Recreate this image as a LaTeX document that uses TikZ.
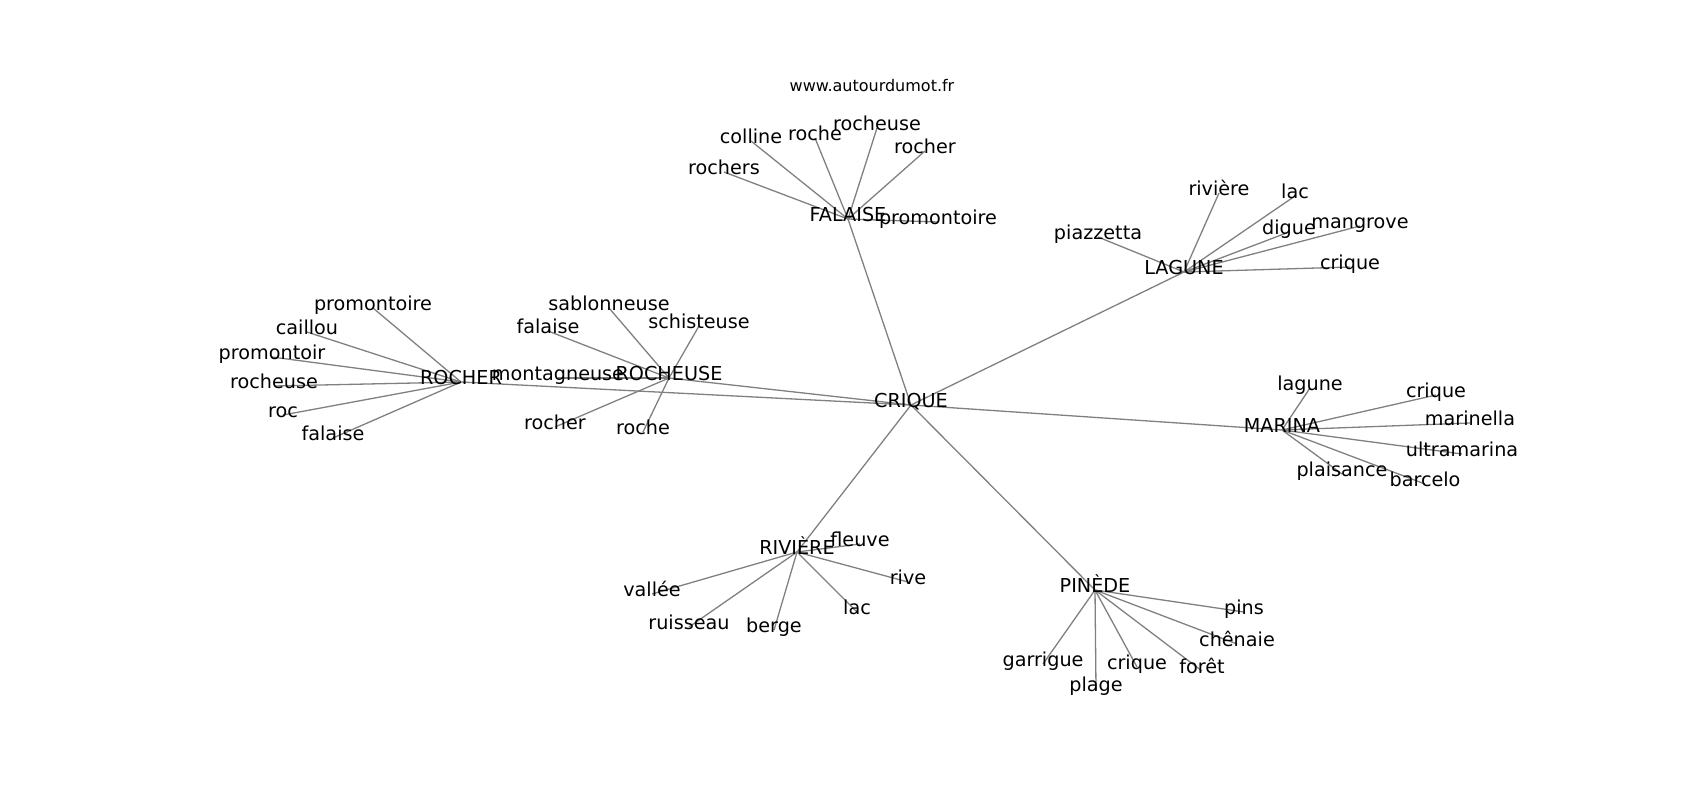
\documentclass[tikz,border=0pt]{standalone}
\usepackage{fontspec}
\setmainfont{DejaVu Sans}
\usetikzlibrary{backgrounds}
\tikzset{
  lbl/.style={inner sep=0pt, anchor=center, text height=0.76em, text depth=0.24em,
    font=\fontsize{19.2}{23}\selectfont, text=black},
  web/.style={inner sep=0pt, anchor=center, font=\fontsize{16}{19}\selectfont, text=black},
  edge/.style={draw=black!50, line width=1.3pt}
}
\begin{document}
\begin{tikzpicture}[x=1pt, y=-1pt]
\useasboundingbox (0,-3) rectangle (1700,797);
\node[web] (www) at (872,83) {www.autourdumot.fr};
% hubs
\node[lbl] (crique) at (911,402) {CRIQUE};
\node[lbl] (falaise) at (848,216) {FALAISE};
\node[lbl] (lagune) at (1184,269) {LAGUNE};
\node[lbl] (marina) at (1282,427) {MARINA};
\node[lbl] (riviere) at (797,549) {RIVIÈRE};
\node[lbl] (pinede) at (1095,587) {PINÈDE};
\node[lbl] (rocherH) at (461,379) {ROCHER};
\node[lbl] (rocheuseH) at (669,375) {ROCHEUSE};
% FALAISE
\node[lbl] (f1) at (751,138) {colline};
\node[lbl] (f2) at (815,135) {roche};
\node[lbl] (f3) at (877,125) {rocheuse};
\node[lbl] (f4) at (925,148) {rocher};
\node[lbl] (f5) at (724,169) {rochers};
\node[lbl] (f6) at (938,219) {promontoire};
% LAGUNE
\node[lbl] (l1) at (1098,234) {piazzetta};
\node[lbl] (l2) at (1219,190) {rivière};
\node[lbl] (l3) at (1295,193) {lac};
\node[lbl] (l4) at (1289,229) {digue};
\node[lbl] (l5) at (1360,223) {mangrove};
\node[lbl] (l6) at (1350,264) {crique};
% MARINA
\node[lbl] (m1) at (1310,385) {lagune};
\node[lbl] (m2) at (1436,392) {crique};
\node[lbl] (m3) at (1470,420) {marinella};
\node[lbl] (m4) at (1462,451) {ultramarina};
\node[lbl] (m5) at (1342,471) {plaisance};
\node[lbl] (m6) at (1425,481) {barcelo};
% RIVIERE
\node[lbl] (r1) at (860,541) {fleuve};
\node[lbl] (r2) at (908,579) {rive};
\node[lbl] (r3) at (857,609) {lac};
\node[lbl] (r4) at (652,591) {vallée};
\node[lbl] (r5) at (689,624) {ruisseau};
\node[lbl] (r6) at (774,627) {berge};
% PINEDE
\node[lbl] (p1) at (1244,609) {pins};
\node[lbl] (p2) at (1237,641) {chênaie};
\node[lbl] (p3) at (1043,661) {garrigue};
\node[lbl] (p4) at (1137,664) {crique};
\node[lbl] (p5) at (1202,668) {forêt};
\node[lbl] (p6) at (1096,686) {plage};
% ROCHER
\node[lbl] (a1) at (373,305) {promontoire};
\node[lbl] (a2) at (307,329) {caillou};
\node[lbl] (a3) at (272,354) {promontoir};
\node[lbl] (a4) at (274,383) {rocheuse};
\node[lbl] (a5) at (283,412) {roc};
\node[lbl] (a6) at (333,435) {falaise};
% ROCHEUSE
\node[lbl] (b1) at (609,305) {sablonneuse};
\node[lbl] (b2) at (548,328) {falaise};
\node[lbl] (b3) at (699,323) {schisteuse};
\node[lbl] (b4) at (555,424) {rocher};
\node[lbl] (b5) at (643,429) {roche};
\node[lbl] (b6) at (558,375) {montagneuse};
\begin{scope}[on background layer]
\foreach \h in {falaise,lagune,marina,riviere,pinede,rocherH,rocheuseH}
  \draw[edge] (crique.center) -- (\h.center);
\foreach \l in {f1,f2,f3,f4,f5,f6} \draw[edge] (falaise.center) -- (\l.center);
\foreach \l in {l1,l2,l3,l4,l5,l6} \draw[edge] (lagune.center) -- (\l.center);
\foreach \l in {m1,m2,m3,m4,m5,m6} \draw[edge] (marina.center) -- (\l.center);
\foreach \l in {r1,r2,r3,r4,r5,r6} \draw[edge] (riviere.center) -- (\l.center);
\foreach \l in {p1,p2,p3,p4,p5,p6} \draw[edge] (pinede.center) -- (\l.center);
\foreach \l in {a1,a2,a3,a4,a5,a6} \draw[edge] (rocherH.center) -- (\l.center);
\foreach \l in {b1,b2,b3,b4,b5,b6} \draw[edge] (rocheuseH.center) -- (\l.center);
\end{scope}
\end{tikzpicture}
\end{document}
